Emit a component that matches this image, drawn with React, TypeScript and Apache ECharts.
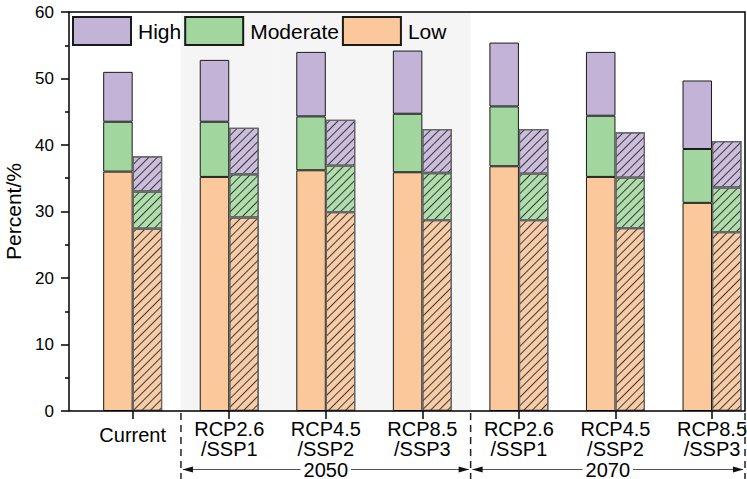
import React, { useEffect, useRef } from "react";
import * as echarts from "echarts";

const categories = [
  "Current",
  "2050 RCP2.6/SSP1",
  "2050 RCP4.5/SSP2",
  "2050 RCP8.5/SSP3",
  "2070 RCP2.6/SSP1",
  "2070 RCP4.5/SSP2",
  "2070 RCP8.5/SSP3",
];
const tickLabels = [
  "Current",
  "RCP2.6\n/SSP1",
  "RCP4.5\n/SSP2",
  "RCP8.5\n/SSP3",
  "RCP2.6\n/SSP1",
  "RCP4.5\n/SSP2",
  "RCP8.5\n/SSP3",
];
const periodLabels = ["2050", "2070"];

// solid bars
const solidLow = [36.0, 35.2, 36.2, 35.9, 36.8, 35.2, 31.3];
const solidModerate = [7.5, 8.3, 8.1, 8.8, 9.0, 9.2, 8.1];
const solidHigh = [7.5, 9.3, 9.7, 9.5, 9.6, 9.6, 10.3];
// hatched bars
const hatchLow = [27.4, 29.1, 29.9, 28.7, 28.7, 27.5, 26.9];
const hatchModerate = [5.6, 6.5, 7.0, 7.1, 7.0, 7.6, 6.7];
const hatchHigh = [5.3, 7.0, 6.9, 6.6, 6.7, 6.8, 7.0];

const yTicks = { min: 0, max: 60, interval: 10 };

const FONT = '"Liberation Sans", Arial, sans-serif';

const solidColors = { Low: "#FAC89B", Moderate: "#A1D79E", High: "#C3B3D7" };
const hatchColors = { Low: "#F7CCA6", Moderate: "#B0DDAC", High: "#CBBDDC" };

export default function App() {
  const ref = useRef<HTMLDivElement>(null);
  useEffect(() => {
    if (!ref.current) return;
    const chart = echarts.init(ref.current, null, { renderer: "svg" });
    const decal = {
      symbol: "rect",
      symbolSize: 1,
      dashArrayX: [1, 0],
      dashArrayY: [1, 5],
      rotation: -Math.PI / 4,
      color: "rgba(20,20,20,0.8)",
    };
    const mkSolid = (name: string, data: number[]) => ({
      name,
      type: "bar",
      stack: "solid",
      data,
      barWidth: 29.5,
      barGap: "0%",
      itemStyle: {
        color: (solidColors as any)[name],
        borderColor: "#1a1a1a",
        borderWidth: 1,
      },
    });
    const mkHatch = (name: string, data: number[]) => ({
      name,
      type: "bar",
      stack: "hatch",
      data,
      barWidth: 29.5,
      barGap: "0%",
      itemStyle: {
        color: (hatchColors as any)[name],
        borderColor: "#666",
        borderWidth: 1.2,
        decal,
      },
    });
    const option: any = {
      animation: false,
      backgroundColor: "#fff",
      textStyle: { fontFamily: FONT },
      grid: {
        left: 84.4,
        right: -13.3,
        top: 12,
        bottom: 68,
        containLabel: false,
        outerBoundsMode: "none",
      },
      legend: {
        left: 72,
        top: 16,
        padding: 0,
        itemGap: 3,
        itemWidth: 58,
        itemHeight: 28,
        icon: "rect",
        selectedMode: false,
        data: ["High", "Moderate", "Low"],
        textStyle: { fontSize: 21, color: "#000", fontFamily: FONT, padding: [0, 0, 0, 2] },
      },
      xAxis: {
        type: "category",
        data: categories,
        boundaryGap: true,
        axisLine: { show: false },
        axisTick: {
          show: true,
          alignWithLabel: true,
          length: 8,
          lineStyle: { color: "#000", width: 1.5 },
        },
        axisLabel: {
          interval: 0,
          margin: 7.5,
          fontSize: 20,
          lineHeight: 20.5,
          color: "#000",
          fontFamily: FONT,
          formatter: (_v: string, i: number) =>
            i === 0 ? "{cur|" + tickLabels[0] + "}" : tickLabels[i],
          rich: {
            cur: { fontSize: 20, lineHeight: 33, color: "#000", fontFamily: FONT },
          },
        },
        splitLine: { show: false },
        splitArea: {
          show: true,
          areaStyle: {
            color: [
              "rgba(0,0,0,0)",
              "#f5f5f5",
              "#f5f5f5",
              "#f5f5f5",
              "rgba(0,0,0,0)",
              "rgba(0,0,0,0)",
              "rgba(0,0,0,0)",
            ],
          },
        },
      },
      yAxis: {
        type: "value",
        min: yTicks.min,
        max: yTicks.max,
        interval: yTicks.interval,
        offset: 15.4,
        name: "Percent/%",
        nameLocation: "middle",
        nameGap: 44,
        nameTextStyle: { fontSize: 21, color: "#000", fontFamily: FONT },
        axisLine: { show: false },
        axisTick: { show: true, length: 8, lineStyle: { color: "#000", width: 1.5 } },
        minorTick: { show: true, splitNumber: 2, length: 4, lineStyle: { color: "#000", width: 1.5 } },
        axisLabel: { margin: 15, fontSize: 17, color: "#000", fontFamily: FONT },
        splitLine: { show: false },
        minorSplitLine: { show: false },
      },
      series: [
        mkSolid("Low", solidLow),
        mkSolid("Moderate", solidModerate),
        mkSolid("High", solidHigh),
        mkHatch("Low", hatchLow),
        mkHatch("Moderate", hatchModerate),
        mkHatch("High", hatchHigh),
      ],
    };
    chart.setOption(option);

    // annotation positions derived from the category axis
    const xs = categories.map((_, i) => chart.convertToPixel({ xAxisIndex: 0 }, i) as number);
    const y0 = chart.convertToPixel({ yAxisIndex: 0 }, yTicks.min) as number;
    const yTop = chart.convertToPixel({ yAxisIndex: 0 }, yTicks.max) as number;
    const frameLeft = 69;
    const frameRight = 745;
    const b1 = (xs[0] + xs[1]) / 2;
    const b2 = (xs[3] + xs[4]) / 2;
    const b3 = frameRight;
    const arrowY = 469.5;
    const dashed = (x: number) => ({
      type: "line",
      shape: { x1: x, y1: y0 + 2, x2: x, y2: 479 },
      style: { stroke: "#222", lineWidth: 1.5, lineDash: [7, 5] },
      z: 100,
    });
    const arrow = (xa: number, xb: number, label: string) => [
      {
        type: "line",
        shape: { x1: xa + 2, y1: arrowY, x2: xb - 2, y2: arrowY },
        style: { stroke: "#555", lineWidth: 1 },
        z: 100,
      },
      {
        type: "polygon",
        shape: { points: [[xa + 1.5, arrowY], [xa + 12, arrowY - 3], [xa + 12, arrowY + 3]] },
        style: { fill: "#111" },
        z: 101,
      },
      {
        type: "polygon",
        shape: { points: [[xb - 1.5, arrowY], [xb - 12, arrowY - 3], [xb - 12, arrowY + 3]] },
        style: { fill: "#111" },
        z: 101,
      },
      {
        type: "text",
        x: (xa + xb) / 2,
        y: arrowY,
        style: {
          text: label,
          fontSize: 20,
          fontFamily: FONT,
          fill: "#000",
          align: "center",
          verticalAlign: "middle",
          backgroundColor: "#fff",
          padding: [0, 3],
        },
        z: 102,
      },
    ];
    chart.setOption({
      graphic: [
        {
          type: "rect",
          shape: { x: frameLeft, y: yTop, width: frameRight - frameLeft, height: y0 - yTop },
          style: { fill: "none", stroke: "#000", lineWidth: 1.5 },
          z: 100,
          silent: true,
        },
        dashed(b1),
        dashed(b2),
        dashed(b3),
        ...arrow(b1, b2, periodLabels[0]),
        ...arrow(b2, b3, periodLabels[1]),
      ],
    });
    return () => chart.dispose();
  }, []);
  return (
    <div
      ref={ref}
      style={{ position: "fixed", left: 0, top: 0, width: 747, height: 479 }}
    />
  );
}
